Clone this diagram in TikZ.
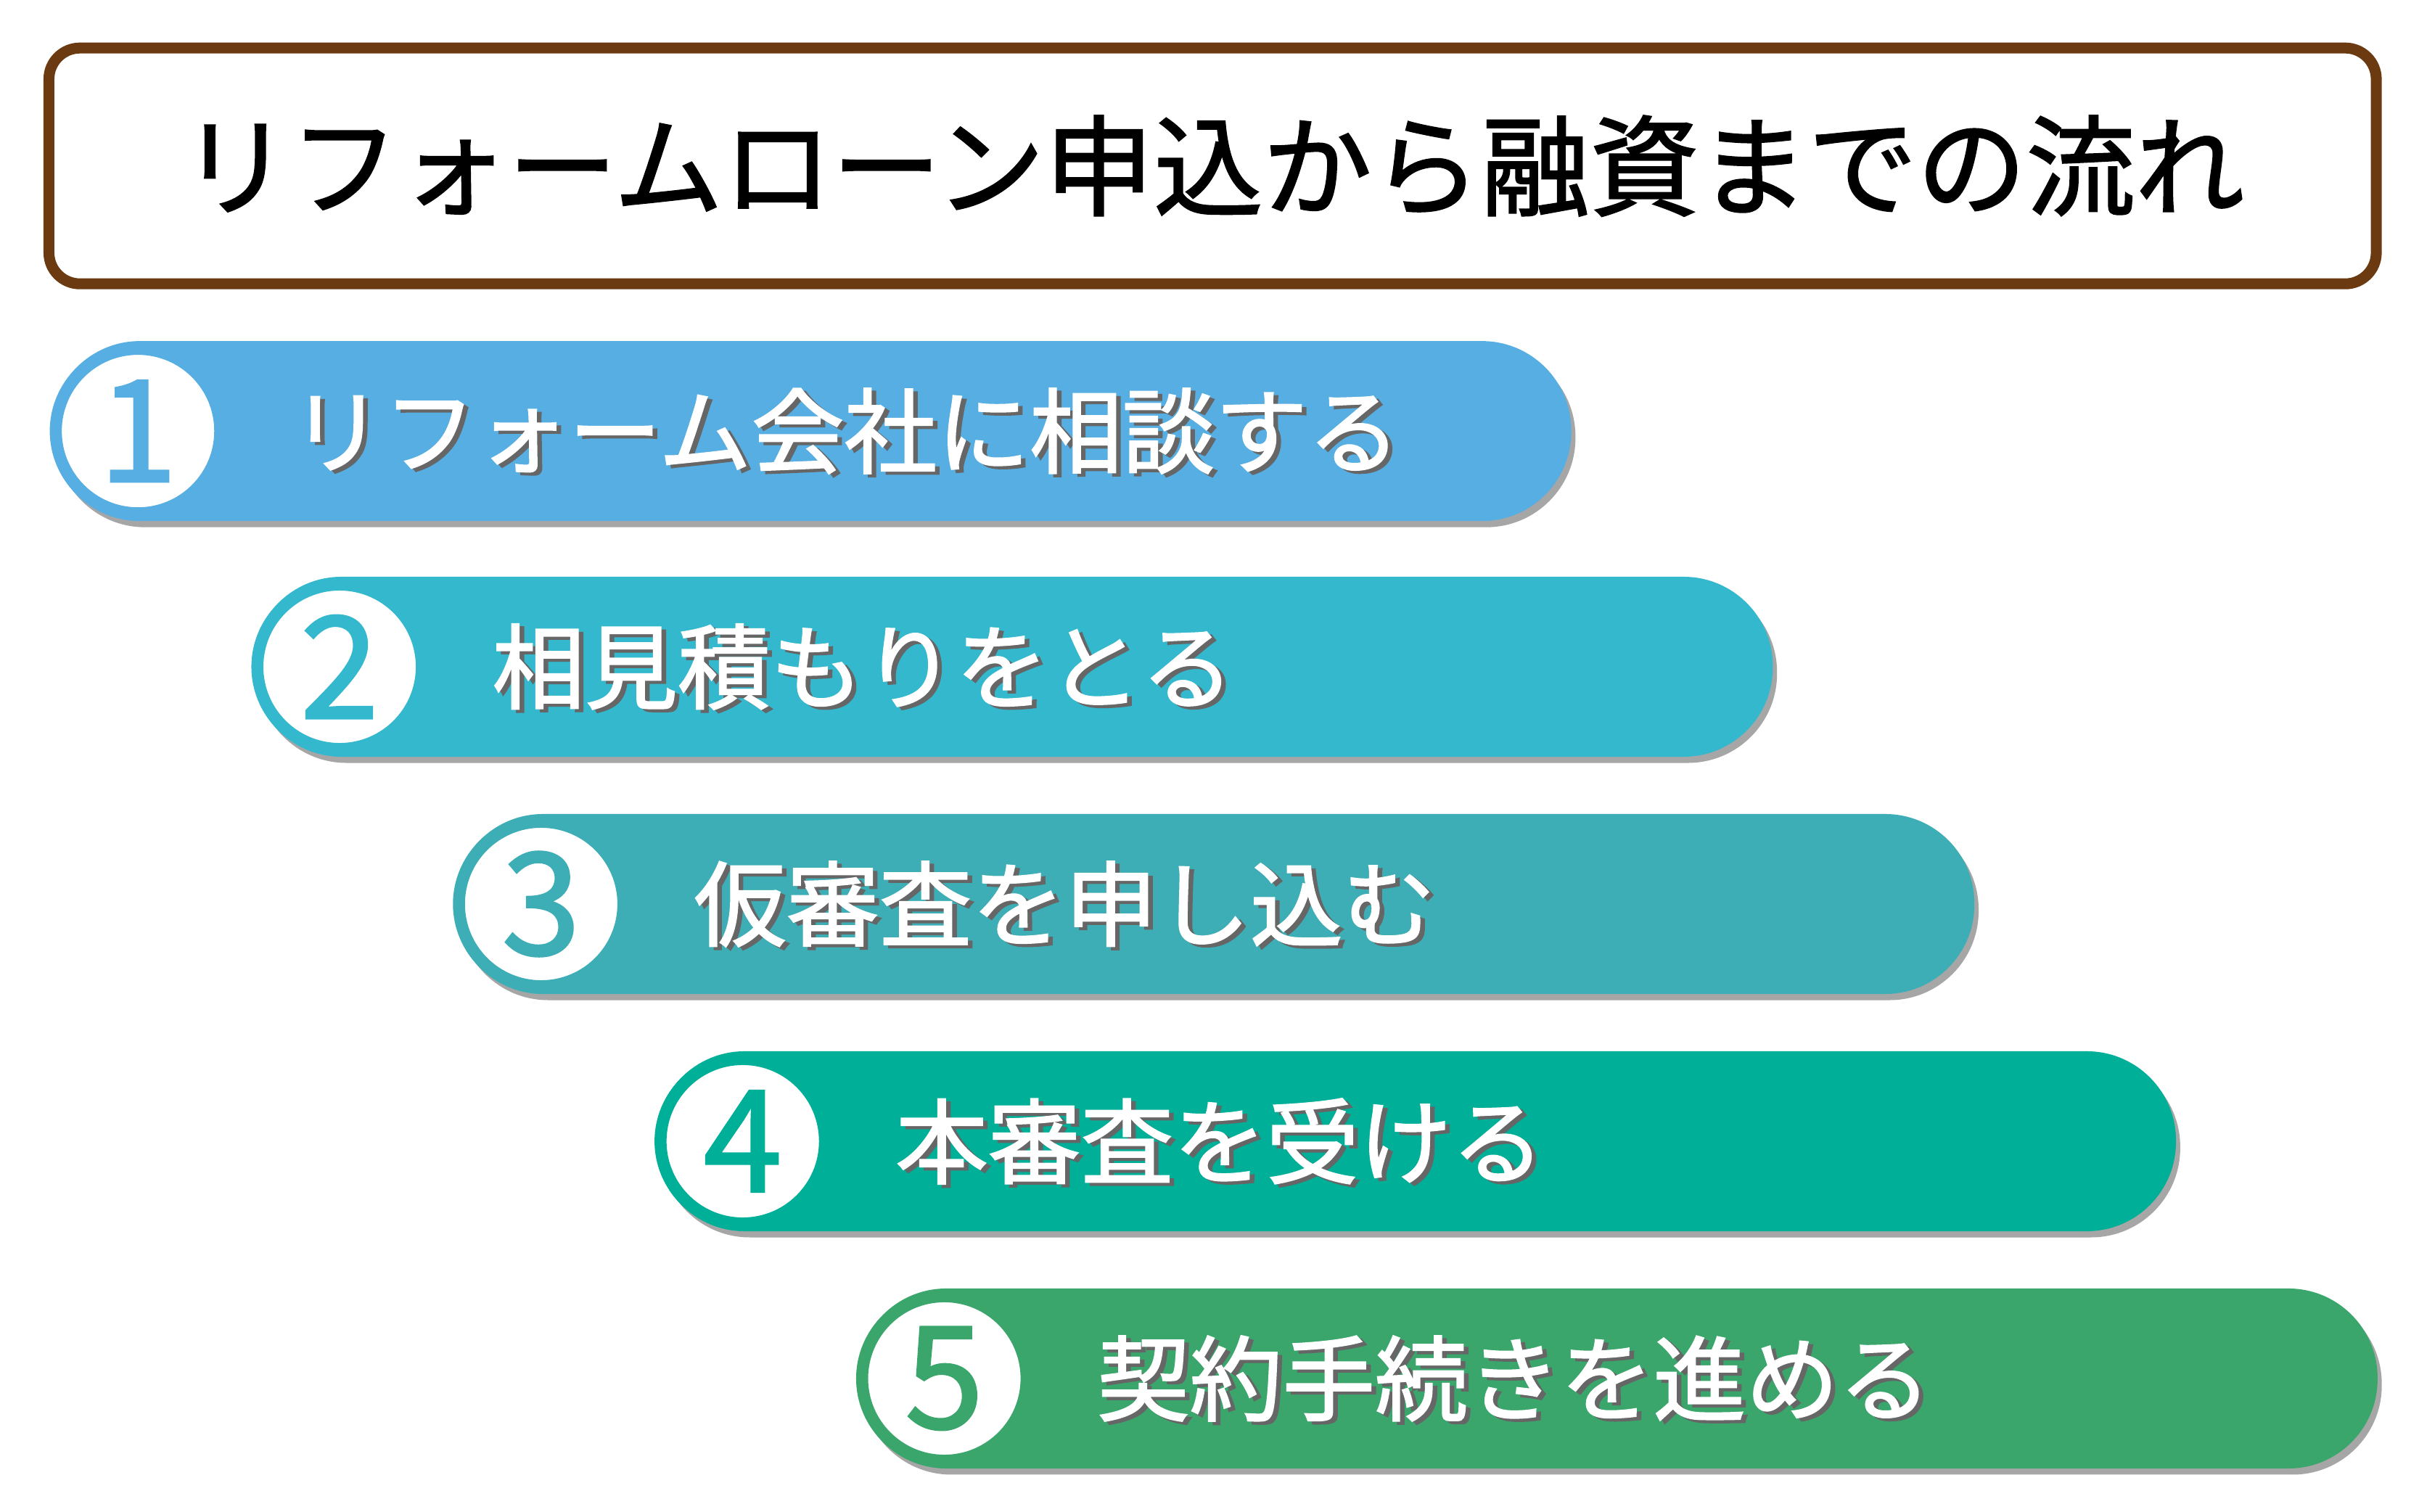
\documentclass[tikz,border=0pt]{standalone}
\usepackage{fontspec}
\newfontfamily\jp{Noto Sans CJK JP}[AutoFakeBold=1.6]
\usetikzlibrary{calc}
\definecolor{titlebrown}{HTML}{6B3A10}
\definecolor{stepa}{HTML}{56AEE2}
\definecolor{stepb}{HTML}{33B8CD}
\definecolor{stepc}{HTML}{3EAEB6}
\definecolor{stepd}{HTML}{00AF98}
\definecolor{stepe}{HTML}{3BA66C}
\tikzset{pill/.style={rounded corners=0.575cm,minimum width=9.8cm,minimum height=1.16cm,anchor=west,inner sep=0pt}}
\tikzset{numring/.style={circle,fill=white,line width=2.2pt,minimum size=1.06cm,inner sep=0pt}}
\begin{document}
\begin{tikzpicture}[x=0.01cm,y=-0.01cm]

    \useasboundingbox (0,0) rectangle (1560,975);
    \fill[white] (0,0) rectangle (1560,975);

    \node[draw=titlebrown,line width=2pt,rounded corners=0.2cm,minimum width=15.0cm,minimum height=1.52cm] (title) at (782,107)
        {\jp\bfseries\fontsize{20}{24}\selectfont リフォームローン申込から融資までの流れ};

    \foreach \i/\x/\y/\c/\txt in {1/32/278/stepa/リフォーム会社に相談する,
                                  2/162/430/stepb/相見積もりをとる,
                                  3/292/583/stepc/仮審査を申し込む,
                                  4/422/736/stepd/本審査を受ける,
                                  5/552/889/stepe/契約手続きを進める} {
        \fill[black!35,rounded corners=0.575cm] (\x+4,\y-54) rectangle (\x+984,\y+62);
        \node[pill,fill=\c] (step\i) at (\x,\y) {};
        \node[numring,draw=\c] (num\i) at (\x+57,\y) {\jp\bfseries\fontsize{26}{28}\selectfont\color{\c}\i};
        \node[anchor=west,text=black!60] at (\x+146,\y+2) {\jp\bfseries\fontsize{17}{20}\selectfont\txt};
        \node[anchor=west,text=white] (label\i) at (\x+143,\y) {\jp\bfseries\fontsize{17}{20}\selectfont\txt};
    }

\end{tikzpicture}
\end{document}
